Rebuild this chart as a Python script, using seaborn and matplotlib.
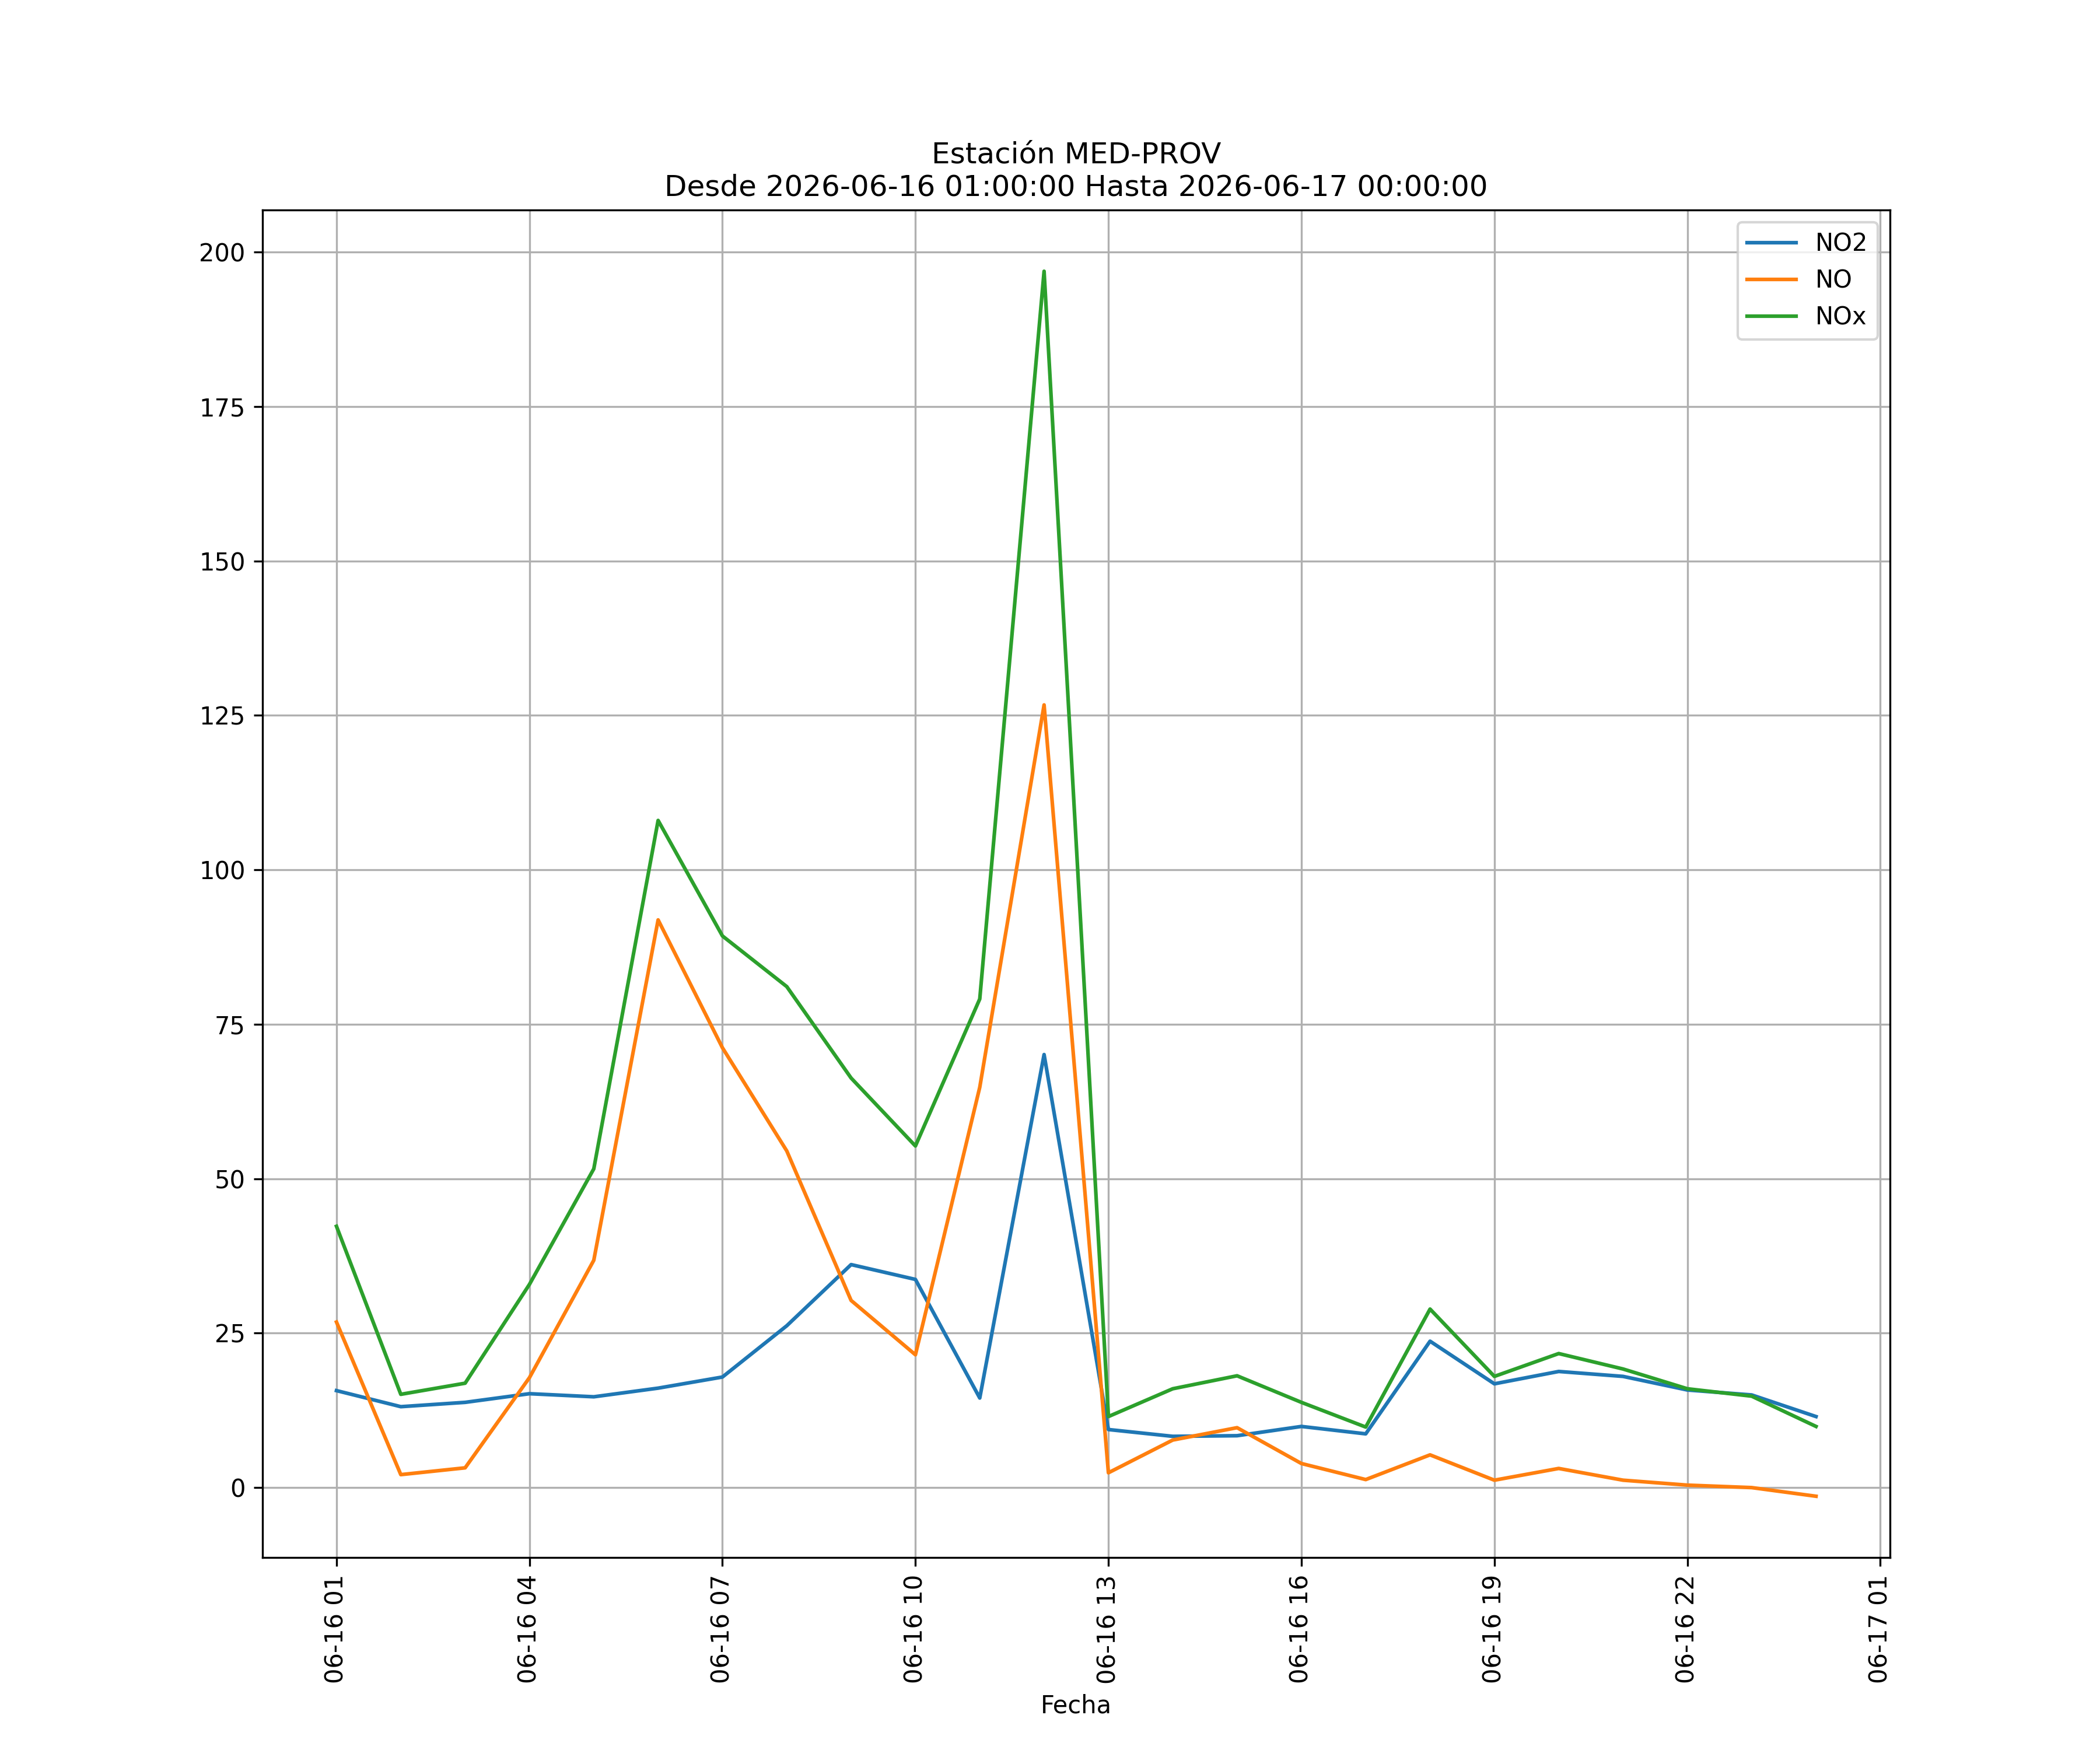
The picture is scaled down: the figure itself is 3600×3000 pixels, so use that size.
import numpy as np
import pandas as pd
import seaborn as sns
import matplotlib.pyplot as plt
import matplotlib.dates as mdates

estacion = "MED-PROV"
fechas = pd.date_range("2026-06-16 01:00:00", "2026-06-17 00:00:00", freq="h")

no2 = [15.7, 13.1, 13.8, 15.2, 14.7, 16.1, 17.9, 26.2, 36.1, 33.7, 14.5, 70.1,
       9.4, 8.3, 8.4, 9.9, 8.7, 23.7, 16.8, 18.8, 18.0, 15.8, 15.0, 11.5]
no = [26.8, 2.1, 3.2, 17.8, 36.8, 91.9, 71.2, 54.5, 30.3, 21.5, 64.8, 126.7,
      2.4, 7.7, 9.7, 3.9, 1.3, 5.3, 1.2, 3.1, 1.2, 0.4, 0.0, -1.4]
nox = [42.3, 15.1, 16.9, 32.9, 51.6, 108.0, 89.3, 81.1, 66.3, 55.3, 79.1, 196.9,
       11.5, 16.0, 18.1, 13.8, 9.8, 28.9, 18.0, 21.7, 19.2, 16.0, 14.8, 9.9]

df = pd.DataFrame({"Fecha": fechas, "NO2": no2, "NO": no, "NOx": nox})
largo = df.melt(id_vars="Fecha", var_name="contaminante", value_name="valor")

fig, ax = plt.subplots(figsize=(12, 10))
sns.lineplot(data=largo, x="Fecha", y="valor", hue="contaminante", ax=ax)

# leyenda sin titulo, como en el original
handles, labels = ax.get_legend_handles_labels()
ax.legend(handles, labels, loc="upper right")

ax.xaxis.set_major_locator(mdates.HourLocator(byhour=range(1, 24, 3)))
ax.xaxis.set_major_formatter(mdates.DateFormatter("%m-%d %H"))
plt.setp(ax.get_xticklabels(), rotation=90)
ax.grid(True)
ax.set_xlabel("Fecha")
ax.set_ylabel("")
ax.set_title("Estación " + estacion + "\nDesde 2026-06-16 01:00:00 Hasta 2026-06-17 00:00:00")

plt.savefig("out.png", dpi=300)
